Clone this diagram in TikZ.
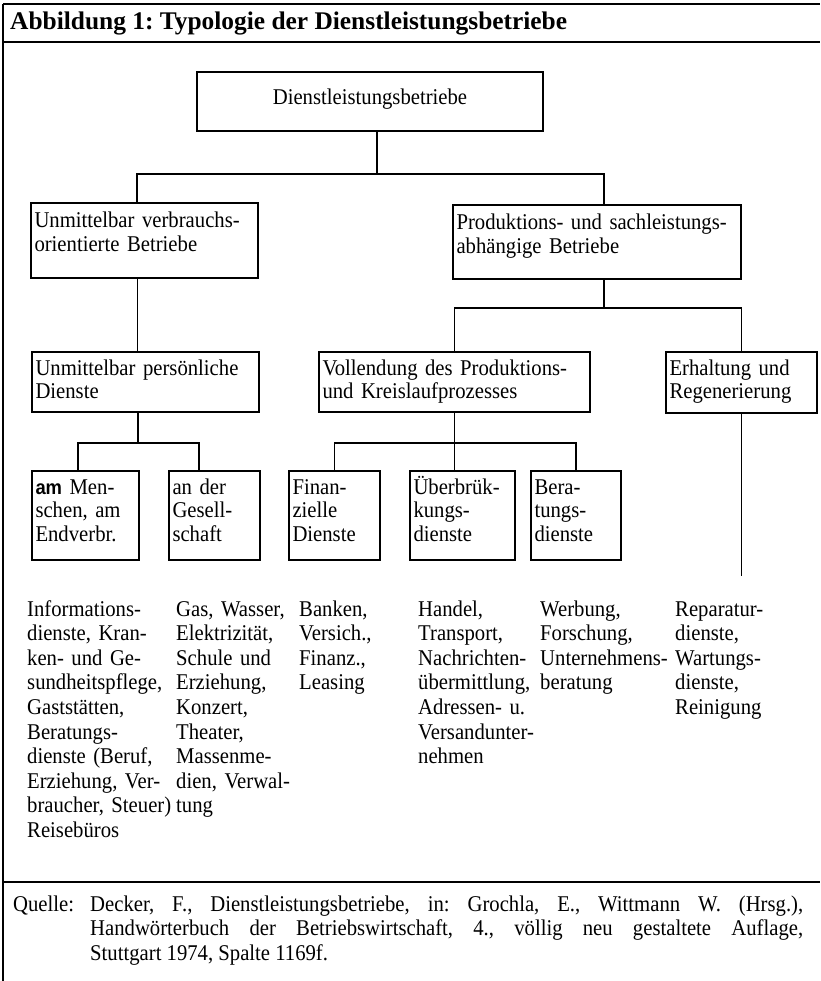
\documentclass[tikz,border=0pt]{standalone}
\usepackage{fontspec}
\setmainfont{Liberation Serif}[FakeStretch=0.92]
\setsansfont{Liberation Sans}[FakeStretch=0.92]
\newfontfamily\titelfont{Liberation Serif}
\frenchspacing
\begin{document}
\begin{tikzpicture}[
		x=1pt, y=-1pt,
		font=\fontsize{22.5}{23.5}\selectfont,
		box/.style={draw, line width=1.3pt, rectangle, anchor=north west, outer sep=0pt,
				inner xsep=3.5pt, inner ysep=0pt, align=left},
		col/.style={anchor=base west, align=left, inner sep=0pt, font=\fontsize{22.5}{24.6}\selectfont},
		conn/.style={line width=1.2pt},
		frame/.style={line width=2.5pt}
	]
	\useasboundingbox (0,0) rectangle (820,981);

	% Rahmen
	\draw[frame] (3,4) -- (820,4);
	\draw[frame] (3,42) -- (820,42);
	\draw[frame] (3,882) -- (820,882);
	\draw[frame] (3,4) -- (3,981);
	\node[anchor=base west, inner sep=0pt, font=\titelfont\fontsize{25.4}{30}\bfseries\selectfont] (titel) at (10,30)
	{Abbildung 1: Typologie der Dienstleistungsbetriebe};

	% Kaesten
	\node[box, text width=339pt, align=center, text height=33pt, text depth=26pt] (root) at (197,72)
	{Dienstleistungsbetriebe};

	\node[box, text width=220pt, text height=25pt, text depth=50pt] (verbr) at (31,203)
	{Unmittelbar verbrauchs-\\orientierte Betriebe};
	\node[box, text width=281pt, text height=25pt, text depth=49pt] (prod) at (453,205)
	{Produktions- und sachleistungs-\\abhängige Betriebe};

	\node[box, text width=220pt, text height=23pt, text depth=37pt] (pers) at (32,352)
	{Unmittelbar persönliche\\Dienste};
	\node[box, text width=264pt, text height=23pt, text depth=37pt] (vollend) at (319,352)
	{Vollendung des Produktions-\\und Kreislaufprozesses};
	\node[box, text width=144pt, text height=23pt, text depth=38pt] (erhalt) at (666,352)
	{Erhaltung und\\Regenerierung};

	\node[box, text width=100pt, text height=23pt, text depth=66pt] (mensch) at (32,471)
	{{\sffamily\bfseries\fontsize{20}{23.5}\selectfont am} Men-\\schen, am\\Endverbr.};
	\node[box, text width=84pt, text height=23pt, text depth=66pt] (gesell) at (169,471)
	{an der\\Gesell-\\schaft};
	\node[box, text width=84pt, text height=23pt, text depth=66pt] (finanz) at (289,471)
	{Finan-\\zielle\\Dienste};
	\node[box, text width=98pt, text height=23pt, text depth=66pt] (ueberbr) at (410,471)
	{Überbrük-\\kungs-\\dienste};
	\node[box, text width=83pt, text height=23pt, text depth=66pt] (berat) at (531,471)
	{Bera-\\tungs-\\dienste};

	% Verbindungen
	\coordinate (j0) at (377,174);
	\draw[conn] (root.south -| j0) -- (j0);
	\draw[conn] ([xshift=-7.5pt]verbr.north) |- (j0) -| ([xshift=7pt]prod.north);
	\draw[conn] ([xshift=-7pt]verbr.south) -- ([xshift=-7pt]verbr.south |- pers.north);
	\coordinate (j1) at (604,308);
	\draw[conn] ([xshift=7pt]prod.south) -- (j1);
	\draw[conn] (vollend.north) |- (j1) -| (erhalt.north);
	\coordinate (j2) at (138,443);
	\draw[conn] (pers.south -| j2) -- (j2);
	\draw[conn] ([xshift=-7.5pt]mensch.north) |- (j2) -| ([xshift=-15.5pt]gesell.north);
	\draw[conn] (vollend.south) -- ++(0,31) coordinate (j3);
	\draw[conn] (finanz.north) |- (j3) -| (berat.north);
	\draw[conn] (j3) -- (j3 |- ueberbr.north);
	\draw[conn] (erhalt.south) -- ++(0,163) coordinate (ende);

	% Beispiele
	\node[col, text width=148pt] (bsp1) at (27,616) {Informations-\\dienste, Kran-\\ken- und Ge-\\sundheitspflege,\\Gaststätten,\\Beratungs-\\dienste (Beruf,\\Erziehung, Ver-\\braucher, Steuer)\\Reisebüros};
	\node[col, text width=120pt] (bsp2) at (176,616) {Gas, Wasser,\\Elektrizität,\\Schule und\\Erziehung,\\Konzert,\\Theater,\\Massenme-\\dien, Verwal-\\tung};
	\node[col, text width=115pt] (bsp3) at (299,616) {Banken,\\Versich.,\\Finanz.,\\Leasing};
	\node[col, text width=120pt] (bsp4) at (418,616) {Handel,\\Transport,\\Nachrichten-\\übermittlung,\\Adressen- u.\\Versandunter-\\nehmen};
	\node[col, text width=134pt] (bsp5) at (540,616) {Werbung,\\Forschung,\\Unternehmens-\\beratung};
	\node[col, text width=140pt] (bsp6) at (675,616) {Reparatur-\\dienste,\\Wartungs-\\dienste,\\Reinigung};

	% Quelle
	\node[anchor=base west, inner sep=0pt] (quelle) at (13,911) {Quelle:};
	\node[anchor=base west, inner sep=0pt, text width=713pt, align=justify,
		font=\fontsize{22.5}{24.5}\selectfont] (lit) at (90,911)
	{Decker, F., Dienstleistungsbetriebe, in: Grochla, E., Wittmann W. (Hrsg.),\linebreak
		Handwörterbuch der Betriebswirtschaft, 4., völlig neu gestaltete Auflage,\linebreak
		Stuttgart 1974, Spalte 1169f.};
\end{tikzpicture}
\end{document}
